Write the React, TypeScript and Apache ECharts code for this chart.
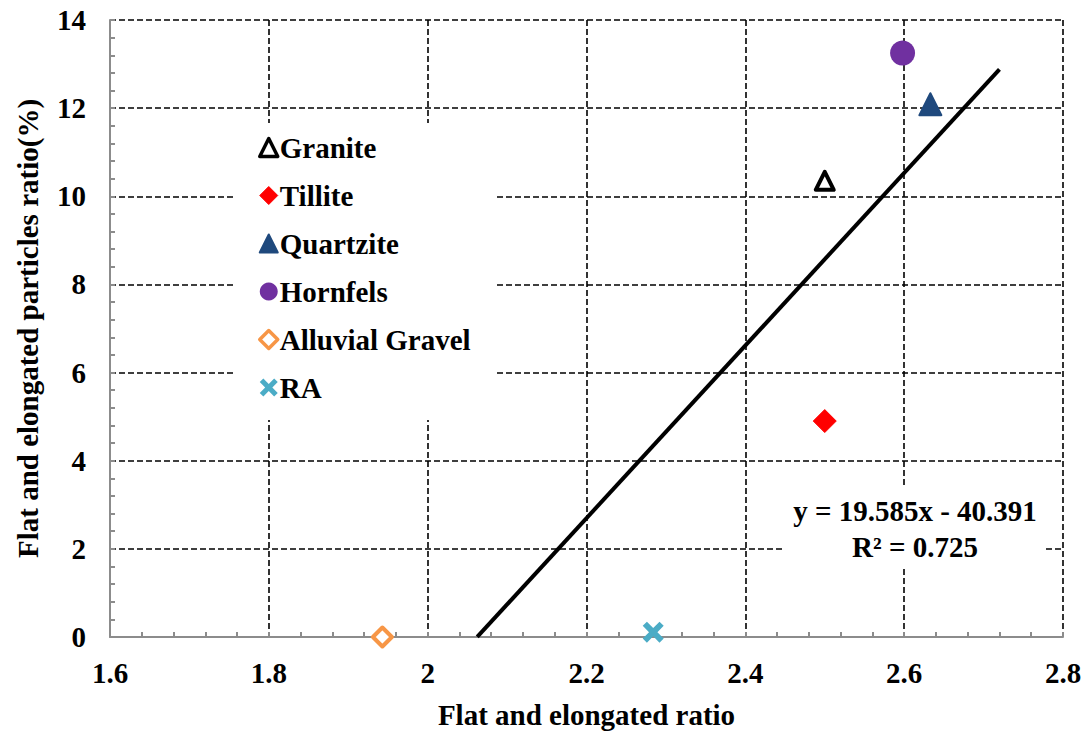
import React, { useEffect, useRef } from "react";
import * as echarts from "echarts";

const rockTypes = ["Granite", "Tillite", "Quartzite", "Hornfels", "Alluvial Gravel", "RA"];
const feRatio = [2.5, 2.5, 2.633, 2.598, 1.943, 2.284];
const feParticles = [10.35, 4.9, 12.09, 13.25, 0.0, 0.11];
const rockColors = ["#000000", "#FF0000", "#1F497D", "#7030A0", "#F79646", "#4BACC6"];

const slope = 19.585;
const intercept = -40.391;
const trendX = [2.0624, 2.72];
const equationLines = ["y = 19.585x - 40.391", "R\u00B2 = 0.725"];

const xTicks = { min: 1.6, max: 2.8, interval: 0.2 };
const yTicks = { min: 0, max: 14, interval: 2 };

const FONT = "Liberation Serif";
const CROSS = "path://M0,2 L2,0 L5,3 L8,0 L10,2 L7,5 L10,8 L8,10 L5,7 L2,10 L0,8 L3,5 Z";

function symbolFor(i: number): any {
  const name = rockTypes[i];
  const c = rockColors[i];
  switch (name) {
    case "Granite":
      return { symbol: "triangle", symbolSize: 18, itemStyle: { opacity: 1, color: "#ffffff", borderColor: c, borderWidth: 4, borderJoin: "round" } };
    case "Tillite":
      return { symbol: "diamond", symbolSize: 23, itemStyle: { opacity: 1, color: c, borderColor: c, borderWidth: 1, borderJoin: "round" } };
    case "Quartzite":
      return { symbol: "triangle", symbolSize: 22, itemStyle: { opacity: 1, color: c, borderColor: c, borderWidth: 2, borderJoin: "round" } };
    case "Hornfels":
      return { symbol: "circle", symbolSize: 25, itemStyle: { opacity: 1, color: c } };
    case "Alluvial Gravel":
      return { symbol: "diamond", symbolSize: 19, itemStyle: { opacity: 1, color: "#ffffff", borderColor: c, borderWidth: 4, borderJoin: "round" } };
    default:
      return { symbol: CROSS, symbolSize: 21, itemStyle: { opacity: 1, color: c } };
  }
}

export default function App() {
  const ref = useRef<HTMLDivElement>(null);
  useEffect(() => {
    if (!ref.current) return;
    const chart = echarts.init(ref.current, undefined, { renderer: "svg" });
    const scatterSeries = rockTypes.map((name, i) => ({
      name,
      type: "scatter",
      data: [[feRatio[i], feParticles[i]]],
      z: 3,
      ...symbolFor(i),
    }));
    const legendData = rockTypes.map((name, i) => {
      const s = symbolFor(i);
      return {
        name,
        icon: s.symbol,
        itemStyle: { ...s.itemStyle, borderWidth: s.itemStyle.borderWidth ? Math.min(s.itemStyle.borderWidth, 3.5) : 0 },
      };
    });
    const trendData = trendX.map((x) => [x, slope * x + intercept]);
    const axisCommon = {
      axisLine: { show: true, lineStyle: { color: "#8c8c8c", width: 2 } },
      axisTick: { show: true, inside: true, length: 5, lineStyle: { color: "#8c8c8c", width: 2 } },
      minorTick: { show: true, splitNumber: 5, length: 5, lineStyle: { color: "#8c8c8c", width: 2 } },
      splitLine: { show: true, lineStyle: { color: "#000000", type: [6, 3], width: 1.6 } },
      axisLabel: { color: "#000", fontFamily: FONT, fontWeight: "bold", fontSize: 29 },
      nameTextStyle: { color: "#000", fontFamily: FONT, fontWeight: "bold", fontSize: 29 },
    };
    chart.setOption({
      animation: false,
      backgroundColor: "#ffffff",
      grid: { left: 110, right: 28, top: 20, bottom: 94, containLabel: false, outerBoundsMode: "none" },
      xAxis: {
        type: "value",
        ...xTicks,
        ...axisCommon,
        axisLabel: { ...axisCommon.axisLabel, margin: 21 },
        name: "Flat and elongated ratio",
        nameLocation: "middle",
        nameGap: 63,
      },
      yAxis: {
        type: "value",
        ...yTicks,
        ...axisCommon,
        axisLabel: { ...axisCommon.axisLabel, margin: 24 },
        name: "Flat and elongated particles ratio(%)",
        nameLocation: "middle",
        nameGap: 68,
      },
      legend: {
        data: legendData,
        orient: "vertical",
        left: 236,
        top: 123,
        backgroundColor: "#ffffff",
        padding: [10, 25, 18, 22],
        itemGap: 19,
        itemWidth: 18,
        itemHeight: 18,
        textStyle: { color: "#000", fontFamily: FONT, fontWeight: "bold", fontSize: 29, lineHeight: 28, padding: [0, 0, 0, -3] },
      },
      graphic: [
        { type: "rect", z: 10, shape: { x: 785, y: 488, width: 260, height: 78 }, style: { fill: "#ffffff" } },
        {
          type: "text", z: 11, x: 915, y: 511,
          style: { text: equationLines[0], fill: "#000", font: `bold 29px "${FONT}"`, textAlign: "center", textVerticalAlign: "middle" },
        },
        {
          type: "text", z: 11, x: 915, y: 547,
          style: { text: equationLines[1], fill: "#000", font: `bold 29px "${FONT}"`, textAlign: "center", textVerticalAlign: "middle" },
        },
      ],
      series: [
        ...scatterSeries,
        {
          name: "Trend",
          type: "line",
          data: trendData,
          showSymbol: false,
          symbol: "none",
          lineStyle: { color: "#000", width: 4 },
          z: 2,
        },
      ],
    });
    return () => chart.dispose();
  }, []);
  return <div ref={ref} style={{ position: "absolute", left: 0, top: 0, width: 1091, height: 731 }} />;
}
